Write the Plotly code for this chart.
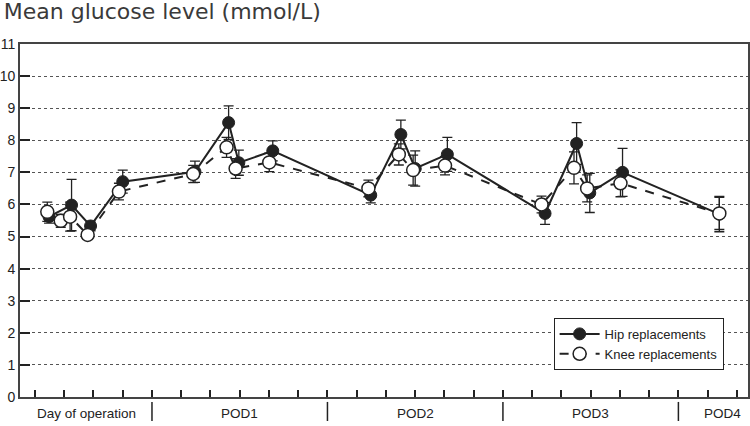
import plotly.graph_objects as go

# ---- data (x in 4-hour tick units from the start of the day of operation) ----
hip_x = [0.48, 1.25, 1.90, 3.00, 5.47, 6.62, 6.97, 8.13, 11.48, 12.51, 13.00, 14.10,
         17.44, 18.52, 18.97, 20.09, 23.40]
hip_y = [5.62, 5.98, 5.33, 6.71, 7.02, 8.55, 7.30, 7.67, 6.29, 8.18, 7.12, 7.56,
         5.72, 7.90, 6.36, 7.00, 5.70]
hip_err = [0.20, 0.80, 0.15, 0.36, 0.33, 0.52, 0.39, 0.31, 0.24, 0.45, 0.55, 0.53,
           0.34, 0.65, 0.61, 0.75, 0.55]

knee_x = [0.42, 0.88, 1.20, 1.80, 2.87, 5.41, 6.55, 6.86, 8.01, 11.40, 12.44, 12.93,
          14.02, 17.32, 18.43, 18.88, 20.02, 23.40]
knee_y = [5.77, 5.49, 5.62, 5.05, 6.40, 6.95, 7.78, 7.12, 7.31, 6.50, 7.56, 7.07,
          7.21, 6.00, 7.14, 6.50, 6.66, 5.72]
knee_err = [0.30, 0.20, 0.45, 0.14, 0.26, 0.27, 0.31, 0.31, 0.29, 0.26, 0.33, 0.47,
            0.29, 0.26, 0.50, 0.42, 0.42, 0.50]

day_labels = ["Day of operation", "POD1", "POD2", "POD3", "POD4"]
day_label_pos = [1.75, 7.0, 13.0, 19.0, 23.5]
day_separators = [4, 10, 16, 22]
tick_positions = list(range(0, 25))

INK = "#222222"
FONT = "Liberation Sans, Arial, sans-serif"

fig = go.Figure()

fig.add_trace(go.Scatter(
    x=hip_x, y=hip_y, name="Hip replacements", mode="lines+markers",
    line=dict(color=INK, width=2),
    marker=dict(symbol="circle", size=12, color=INK, line=dict(color=INK, width=1)),
    error_y=dict(type="data", array=hip_err, visible=True, color=INK, thickness=1.3, width=5),
))
fig.add_trace(go.Scatter(
    x=knee_x, y=knee_y, name="Knee replacements", mode="lines+markers",
    line=dict(color=INK, width=2, dash="dash"),
    marker=dict(symbol="circle", size=13, color="white", line=dict(color=INK, width=1.5)),
    error_y=dict(type="data", array=knee_err, visible=True, color=INK, thickness=1.3, width=5),
))

shapes = []
for s in day_separators:
    shapes.append(dict(type="line", xref="x", yref="paper", x0=s, x1=s,
                       y0=-0.014, y1=-0.068, line=dict(color=INK, width=1.5)))

annotations = []
for lab, pos in zip(day_labels, day_label_pos):
    annotations.append(dict(text=lab, x=pos, xref="x", y=-0.046, yref="paper",
                            showarrow=False, xanchor="center", yanchor="middle",
                            font=dict(size=13.5, color="#222", family=FONT)))

fig.update_layout(
    width=750, height=426,
    margin=dict(l=20, r=2, t=44, b=29),
    paper_bgcolor="white", plot_bgcolor="white",
    font=dict(family=FONT, color="#222"),
    title=dict(text="Mean glucose level (mmol/L)", xref="container", x=0.005, xanchor="left",
               yref="container", y=0.992, yanchor="top", automargin=False,
               font=dict(size=22, color="#3a3a3a", family="DejaVu Sans, sans-serif")),
    showlegend=True,
    legend=dict(x=0.733, y=0.224, xanchor="left", yanchor="top",
                bgcolor="white", bordercolor=INK, borderwidth=1,
                font=dict(size=13, color="#222", family=FONT),
                itemwidth=40, tracegroupgap=0),
    shapes=shapes, annotations=annotations,
)

fig.update_xaxes(range=[-0.513, 24.38], tickvals=tick_positions, ticks="inside",
                 ticklen=7, tickwidth=1.5, tickcolor=INK, showticklabels=False,
                 showline=True, mirror=True, linewidth=2, linecolor="#444",
                 showgrid=False, zeroline=False, automargin=False)
fig.update_yaxes(range=[0, 11], dtick=1, tick0=0, ticks="inside", ticklen=10, tickwidth=2,
                 tickcolor=INK, showline=True, mirror=True, linewidth=2, linecolor="#444",
                 showgrid=True, griddash="dot", gridcolor="#555", gridwidth=1,
                 zeroline=False, automargin=False,
                 tickfont=dict(size=14, color="#222", family=FONT))

fig.write_html("out.html", config={"displayModeBar": False},
               post_script="document.body.style.margin='0';")
